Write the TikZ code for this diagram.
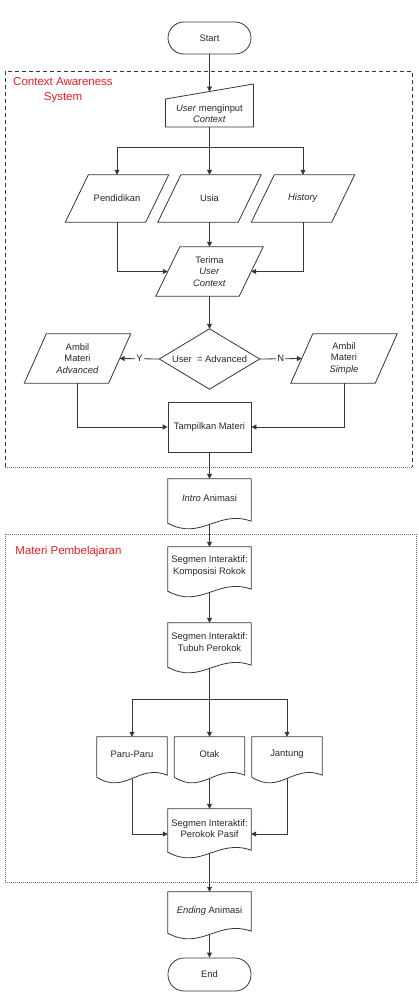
\documentclass[tikz,border=0pt]{standalone}
\usepackage{fontspec}
\setmainfont{Liberation Sans}
\usetikzlibrary{arrows.meta,calc}
\definecolor{linec}{RGB}{55,55,55}
\definecolor{textc}{RGB}{40,40,40}
\definecolor{lblred}{RGB}{235,30,35}
\definecolor{boxgray}{RGB}{110,110,110}
\newcommand\docout[2]{%
  \draw[shapeline] (#1.north west) -- ($(#1.south west)+(0,#2)$)
    .. controls ($(#1.south west)!0.4!(#1.south east)+(0,#2+18)$) and ($(#1.south west)!0.6!(#1.south east)+(0,#2-14)$) ..
    ($(#1.south east)+(0,#2-2)$) -- (#1.north east) -- cycle;
  \coordinate (#1-b) at ($(#1.south)+(0,#2+1.3)$);}
\newcommand\parout[2]{%
  \draw[shapeline] ($(#1.south west)+(-#2,0)$) -- ($(#1.north west)+(#2,0)$) -- ($(#1.north east)+(#2,0)$) -- ($(#1.south east)+(-#2,0)$) -- cycle;}
\begin{document}
\begin{tikzpicture}[x=1pt,y=-1pt,
  base/.style={font=\fontsize{9.4}{11.5}\selectfont, text=textc},
  txt/.style={base, inner sep=0pt, align=center},
  term/.style={txt, draw=linec, line width=0.8pt, rounded corners=16pt, minimum width=83pt, minimum height=32pt},
  procbox/.style={txt, draw=linec, line width=0.8pt, minimum width=83pt, minimum height=50pt},
  shapeline/.style={draw=linec, line width=0.8pt, line join=miter},
  ln/.style={draw=linec, line width=0.8pt},
  arr/.style={draw=linec, line width=0.8pt, -{Triangle[length=5pt,width=5pt]}},
  lbl/.style={base, fill=white, inner sep=1pt},
  redlbl/.style={font=\fontsize{11.5}{15}\selectfont, text=lblred, align=center, inner sep=0pt},
  boxdash/.style={draw=linec, line width=0.8pt, dash pattern=on 4pt off 3pt},
  boxdot/.style={draw=boxgray, line width=0.9pt, dash pattern=on 1.2pt off 0.8pt}
]
\useasboundingbox (0,0) rectangle (418,998);

% containers
\draw[boxdash] (5,467) -- (5,71) -- (412,71) -- (412,467);
\draw[boxdot] (5,467) -- (412,467);
\draw[boxdot] (5,534) rectangle (416,882);
\node[redlbl] (lbl1) at (63,90.5) {Context Awareness\\System};
\node[redlbl] (lbl2) at (68.5,552) {Materi Pembelajaran};

% nodes
\node[term] (start) at (209.5,38) {Start};
\node[txt, minimum width=88pt, minimum height=27pt] (input) at (209.5,113.5) {\textit{User} menginput\\\textit{Context}};
\draw[shapeline] ($(input)+(-44,13.5)$) -- ($(input)+(-44,-14.5)$) -- ($(input)+(44,-29.5)$) -- ($(input)+(44,13.5)$) -- cycle;

\node[txt, minimum width=80pt, minimum height=47pt] (pend) at (117,198.5) {Pendidikan};
\node[txt, minimum width=80pt, minimum height=47pt] (usia) at (209.5,198.5) {Usia};
\node[txt, minimum width=80pt, minimum height=47pt] (hist) at (303,198.5) {\textit{History}};
\parout{pend}{11.5}\parout{usia}{11.5}\parout{hist}{11.5}

\node[txt, minimum width=83pt, minimum height=49pt] (terima) at (209.5,271.5) {Terima\\\textit{User}\\\textit{Context}};
\parout{terima}{12}

\node[txt, minimum width=100pt, minimum height=60pt] (dec) at (209.5,359) {User\ \ = Advanced};
\draw[shapeline] (dec.north) -- (dec.east) -- (dec.south) -- (dec.west) -- cycle;

\node[txt, minimum width=84pt, minimum height=49pt] (adv) at (77.5,358.5) {Ambil\\Materi\\\textit{Advanced}};
\node[txt, minimum width=84pt, minimum height=49pt] (simp) at (344,358.5) {Ambil\\Materi\\\textit{Simple}};
\parout{adv}{11}\parout{simp}{11}

\node[procbox] (tamp) at (209.5,427) {Tampilkan Materi};

\node[txt, minimum width=83pt, minimum height=38pt] (intro) at (209.5,498) {\textit{Intro} Animasi};
\docout{intro}{6}
\node[txt, minimum width=83pt, minimum height=38pt] (komp) at (209.5,566) {Segmen Interaktif:\\Komposisi Rokok};
\docout{komp}{6}
\node[txt, minimum width=83pt, minimum height=38pt] (tubuh) at (209.5,642) {Segmen Interaktif:\\Tubuh Perokok};
\docout{tubuh}{6}
\node[txt, minimum width=70pt, minimum height=34pt] (paru) at (132,754) {Paru-Paru};
\node[txt, minimum width=70pt, minimum height=34pt] (otak) at (209.5,754) {Otak};
\node[txt, minimum width=70pt, minimum height=34pt] (jant) at (287,754) {Jantung};
\docout{paru}{6}\docout{otak}{6}\docout{jant}{6}
\node[txt, minimum width=83pt, minimum height=39pt] (pp) at (209.5,828.5) {Segmen Interaktif:\\Perokok Pasif};
\docout{pp}{4}
\node[txt, minimum width=83pt, minimum height=38pt] (ending) at (209.5,911) {\textit{Ending} Animasi};
\docout{ending}{3}
\node[term, minimum height=33pt] (end) at (209.5,974.5) {End};

% connectors
\draw[arr] (start.south) -- ($(input)+(0,-22)$);
\coordinate (br1) at (209.5,147);
\draw[ln] ($(input)+(0,13.5)$) -- (br1);
\draw[arr] (br1) -| (pend.north);
\draw[arr] (br1) -| (hist.north);
\draw[arr] (br1) -- (usia.north);
\draw[arr] (usia.south) -- (terima.north);
\draw[arr] (pend.south) |- (terima.west);
\draw[arr] (hist.south) |- (terima.east);
\draw[arr] (terima.south) -- (dec.north);
\draw[arr] (dec.west) -- node[lbl] {Y} (adv.east);
\draw[arr] (dec.east) -- node[lbl] {N} (simp.west);
\draw[arr] (adv.south) |- (tamp.west);
\draw[arr] (simp.south) |- (tamp.east);
\draw[arr] (tamp.south) -- (intro.north);
\draw[arr] (intro-b) -- (komp.north);
\draw[arr] (komp-b) -- (tubuh.north);
\coordinate (br2) at (209.5,699);
\draw[ln] (tubuh-b) -- (br2);
\draw[arr] (br2) -| (paru.north);
\draw[arr] (br2) -| (jant.north);
\draw[arr] (br2) -- (otak.north);
\draw[arr] (otak-b) -- (pp.north);
\draw[arr] (paru-b) |- ($(pp.west)+(0,5.5)$);
\draw[arr] (jant-b) |- ($(pp.east)+(0,5.5)$);
\draw[arr] (pp-b) -- (ending.north);
\draw[arr] (ending-b) -- (end.north);
\end{tikzpicture}
\end{document}
